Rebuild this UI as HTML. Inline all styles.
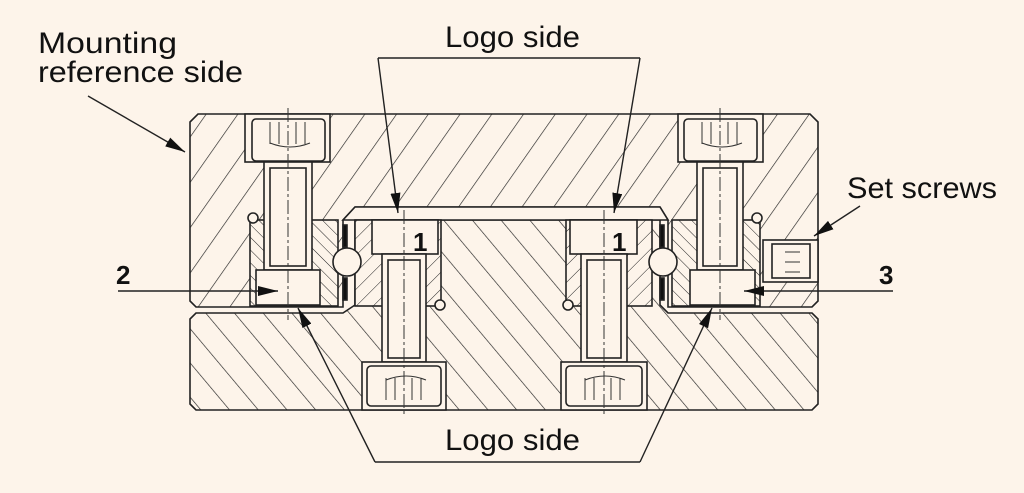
<!DOCTYPE html>
<html><head><meta charset="utf-8"><style>
html,body{margin:0;padding:0;background:#fdf4ea;}
svg{display:block}
text{font-family:"Liberation Sans",sans-serif;fill:#111}
</style></head><body>
<svg width="1024" height="493" viewBox="0 0 1024 493" xmlns="http://www.w3.org/2000/svg">
<defs>
<pattern id="hs" patternUnits="userSpaceOnUse" width="26" height="26" patternTransform="rotate(35)">
<rect width="26" height="26" fill="#fdf4ea"/><line x1="0" y1="0" x2="0" y2="26" stroke="#222" stroke-width="1.3"/></pattern>
<pattern id="hb" patternUnits="userSpaceOnUse" width="22" height="22" patternTransform="rotate(-40)">
<rect width="22" height="22" fill="#fdf4ea"/><line x1="0" y1="0" x2="0" y2="22" stroke="#222" stroke-width="1.3"/></pattern>
<pattern id="hf" patternUnits="userSpaceOnUse" width="9" height="9" patternTransform="rotate(-45)">
<rect width="9" height="9" fill="#fdf4ea"/><line x1="0" y1="0" x2="0" y2="9" stroke="#222" stroke-width="1"/></pattern>
<pattern id="hf2" patternUnits="userSpaceOnUse" width="12" height="12" patternTransform="rotate(45)">
<rect width="12" height="12" fill="#fdf4ea"/><line x1="0" y1="0" x2="0" y2="12" stroke="#222" stroke-width="1"/></pattern>
<marker id="ar" viewBox="0 0 20 10" refX="20" refY="5" markerWidth="20" markerHeight="10" markerUnits="userSpaceOnUse" orient="auto">
<path d="M0,0 L20,5 L0,10 z" fill="#111"/></marker>
</defs>
<g stroke="#222" stroke-width="1.6">
<path d="M198,114 L810,114 L818,122 L818,301 L812,307 L668,307 L668,220 L660,207 L355,207 L343,220 L343,307 L196,307 L190,301 L190,122 Z" fill="url(#hs)"/>
<path d="M196,313 L343,313 L355,305 L355,220 L660,220 L660,305 L668,313 L812,313 L818,319 L818,404 L812,410 L196,410 L190,404 L190,319 Z" fill="url(#hb)"/>
<path d="M343,220 L355,207 L660,207 L668,220 Z" fill="#fdf4ea"/>
<rect x="250" y="220" width="88" height="86" fill="url(#hf)"/>
<rect x="672" y="220" width="88" height="86" fill="url(#hf)"/>
<rect x="355" y="220" width="86" height="86" fill="url(#hf2)"/>
<rect x="566" y="220" width="86" height="86" fill="url(#hf2)"/>
<g fill="#fdf4ea">
<circle cx="347" cy="262" r="14"/><circle cx="663" cy="262" r="14"/>
<circle cx="253" cy="218" r="5"/><circle cx="757" cy="218" r="5"/>
<circle cx="440" cy="305" r="5"/><circle cx="568" cy="305" r="5"/>
</g>
<rect x="343" y="225" width="4" height="22" fill="#111"/><rect x="343" y="278" width="4" height="22" fill="#111"/>
<rect x="660" y="225" width="4" height="22" fill="#111"/><rect x="660" y="278" width="4" height="22" fill="#111"/>
<g fill="#fdf4ea">
<rect x="245" y="114" width="85" height="48"/>
<rect x="252" y="119" width="73" height="42" rx="4"/>
<rect x="264" y="162" width="48" height="108"/>
<rect x="270" y="168" width="36" height="98"/>
<rect x="256" y="270" width="64" height="35"/>
<rect x="678" y="114" width="85" height="48"/>
<rect x="684" y="119" width="73" height="42" rx="4"/>
<rect x="697" y="162" width="46" height="108"/>
<rect x="703" y="168" width="34" height="98"/>
<rect x="690" y="270" width="65" height="35"/>
<rect x="372" y="220" width="66" height="34"/>
<rect x="382" y="254" width="44" height="108"/>
<rect x="388" y="260" width="32" height="98"/>
<rect x="362" y="362" width="84" height="48"/>
<rect x="367" y="366" width="74" height="40" rx="4"/>
<rect x="570" y="220" width="67" height="34"/>
<rect x="581" y="254" width="46" height="108"/>
<rect x="587" y="260" width="34" height="98"/>
<rect x="561" y="362" width="86" height="48"/>
<rect x="566" y="366" width="76" height="40" rx="4"/>
<rect x="763" y="240" width="55" height="42"/>
<rect x="772" y="244" width="38" height="34"/>
</g>
</g>
<g stroke="#333" stroke-width="1" fill="none">
<path d="M270,122v22 M279,122v22 M296,122v22 M305,122v22 M270,143q20,8 40,0"/>
<path d="M702,122v22 M711,122v22 M728,122v22 M737,122v22 M702,143q20,8 40,0"/>
<path d="M386,400v-22 M395,400v-22 M412,400v-22 M421,400v-22 M386,380q20,-8 40,0"/>
<path d="M585,400v-22 M594,400v-22 M611,400v-22 M620,400v-22 M585,380q20,-8 40,0"/>
<path d="M785,252h15 M785,262h15 M785,272h15"/>
</g>
<g stroke="#333" stroke-width="1" stroke-dasharray="14,3,3,3">
<line x1="288" y1="108" x2="288" y2="320"/><line x1="720" y1="108" x2="720" y2="320"/>
<line x1="404" y1="210" x2="404" y2="415"/><line x1="604" y1="210" x2="604" y2="415"/>
</g>
<g stroke="#222" stroke-width="1.4" fill="none">
<path d="M378,58 L640,58"/>
<path d="M378,58 L398,213" marker-end="url(#ar)"/>
<path d="M640,58 L614,213" marker-end="url(#ar)"/>
<path d="M375,462 L640,462"/>
<path d="M375,462 L298,308" marker-end="url(#ar)"/>
<path d="M640,462 L712,308" marker-end="url(#ar)"/>
<path d="M88,96 L185,152" marker-end="url(#ar)"/>
<path d="M860,206 L814,236" marker-end="url(#ar)"/>
<path d="M118,291 L278,291" marker-end="url(#ar)"/>
<path d="M893,291 L744,291" marker-end="url(#ar)"/>
</g>
<g font-size="30">
<text x="38" y="53" textLength="139" lengthAdjust="spacingAndGlyphs">Mounting</text>
<text x="38" y="82" textLength="205" lengthAdjust="spacingAndGlyphs">reference side</text>
<text x="445" y="47" textLength="135" lengthAdjust="spacingAndGlyphs">Logo side</text>
<text x="445" y="450" textLength="135" lengthAdjust="spacingAndGlyphs">Logo side</text>
<text x="847" y="198" textLength="150" lengthAdjust="spacingAndGlyphs">Set screws</text>
</g>
<g font-size="26" font-weight="bold">
<text x="116" y="284">2</text>
<text x="879" y="284">3</text>
<text x="413" y="251">1</text>
<text x="612" y="251">1</text>
</g>
</svg>
</body></html>
